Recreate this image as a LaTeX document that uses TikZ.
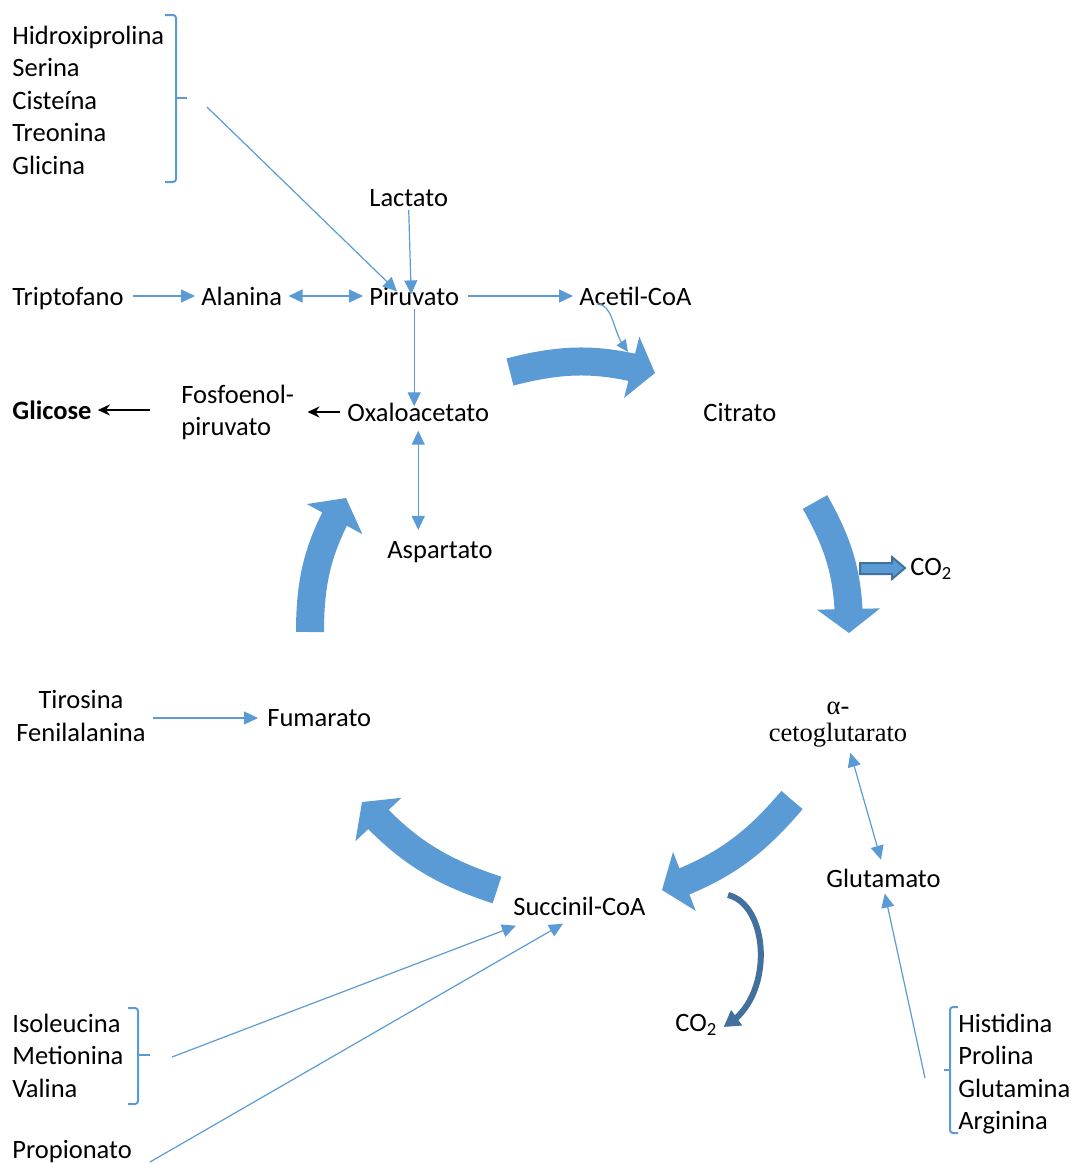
\documentclass[tikz,border=0pt]{standalone}
\usepackage{fontspec}
\setmainfont{Carlito}
\newfontfamily\timesfont{Liberation Serif}
\usetikzlibrary{arrows.meta,bending}
\definecolor{cycleblue}{HTML}{5B9BD5}
\definecolor{darkblue}{HTML}{41719C}

\tikzset{
  txt/.style={inner sep=0pt, anchor=west, align=left,
    font=\fontsize{13.25}{16.25}\selectfont},
  thinarrow/.style={cycleblue, line width=0.6pt, -{Triangle[length=7pt,width=6.5pt]}},
  thinboth/.style={cycleblue, line width=0.6pt,
    {Triangle[length=7pt,width=6.5pt]}-{Triangle[length=7pt,width=6.5pt]}},
  blackarrow/.style={black, line width=1pt, -{Stealth[length=6pt,width=5.5pt]}},
  bracket/.style={cycleblue, line width=1pt, rounded corners=1.5pt},
  cyclearrow/.style={cycleblue, line width=14pt, -{Triangle[length=12pt,width=31pt]}},
}

\begin{document}
\begin{tikzpicture}[x=0.5pt,y=-0.5pt]
\useasboundingbox (0,0) rectangle (1071,1164);

    \node[txt] (hyd) at (12,100) {Hidroxiprolina\\Serina\\Cisteína\\Treonina\\Glicina};
    \node[txt] (lact) at (369,198) {Lactato};
    \node[txt] (trip) at (12,299) {Triptofano};
    \node[txt] (alan) at (201,296) {Alanina};
    \node[txt] (piru) at (369,296) {Piruvato};
    \node[txt] (acet) at (579,296) {Acetil-CoA};
    \node[txt] (glic) at (12,410) {\bfseries Glicose};
    \node[txt] (fosf) at (181,412.5) {Fosfoenol-\\piruvato};
    \node[txt] (oxal) at (347,412) {Oxaloacetato};
    \node[txt] (citr) at (703,412) {Citrato};
    \node[txt] (aspa) at (387,552) {Aspartato};
    \node[txt] (co2a) at (910,569) {CO\textsubscript{2}};
    \node[txt, anchor=center, align=center,
          font=\timesfont\fontsize{13.25}{13.5}\selectfont] (alfa) at (838,725) {α-\\cetoglutarato};
    \node[txt] (glut) at (826,878) {Glutamato};
    \node[txt, anchor=center, align=center] (tiro) at (81,716) {Tirosina\\Fenilalanina};
    \node[txt] (fuma) at (267,718) {Fumarato};
    \node[txt] (succ) at (513,906) {Succinil-CoA};
    \node[txt] (co2b) at (675,1025) {CO\textsubscript{2}};
    \node[txt] (isol) at (12,1055.5) {Isoleucina\\Metionina\\Valina};
    \node[txt] (prop) at (12,1152) {Propionato};
    \node[txt] (hist) at (958,1074) {Histidina\\Prolina\\Glutamina\\Arginina};

    % brackets
    \draw[bracket] (165,15) -- (176,15) -- (176,182) -- (165,182);
    \draw[bracket] (176,98) -- (187,98);
    \draw[bracket] (128,1008) -- (138,1008) -- (138,1104) -- (128,1104);
    \draw[bracket] (138,1055) -- (150,1055);
    \draw[bracket] (958,1007) -- (950,1007) -- (950,1133) -- (958,1133);
    \draw[bracket] (950,1070) -- (944,1070);
    \coordinate (hydout) at (207,107);
    \coordinate (isolout) at (172,1057);
    \coordinate (histout) at (925,1078);
    \coordinate (propout) at (150,1162);
    \coordinate (acetin) at (628,352);

    % thin connectors
    \draw[thinarrow] (hydout) -- ([shift={(28,5)}]piru.north west);
    \draw[thinarrow] ([shift={(0,3)}]lact.south) -- ([shift={(-3,8)}]piru.north);
    \draw[thinarrow, shorten <=4.5pt, shorten >=3pt] (trip.east |- alan.west) -- (alan.west);
    \draw[thinboth, shorten <=3pt, shorten >=3pt] (alan.east) -- (piru.west);
    \draw[thinarrow, shorten <=4.5pt, shorten >=3pt] (piru.east) -- (acet.west);
    \draw[cycleblue, line width=0.6pt, -{Triangle[length=6pt,width=5.5pt]}]
        ([shift={(18,-2)}]acet.south west) .. controls (615,305) and (612,335) .. (acetin);
    \draw[thinarrow, shorten <=1.5pt, shorten >=-2pt] (piru.south) -- (piru.south |- oxal.north);
    \draw[thinboth, shorten <=4.5pt, shorten >=5.5pt] (oxal.south) -- (oxal.south |- aspa.north);
    \draw[blackarrow, shorten <=3.5pt, shorten >=6.5pt] (oxal.west) -- (oxal.west -| fosf.east);
    \draw[blackarrow, shorten <=15.5pt, shorten >=3pt] (fosf.west |- glic.east) -- (glic.east);
    \draw[thinboth, shorten <=2.5pt, shorten >=4.5pt] ([xshift=5.5pt]alfa.south) -- (glut.north);
    \draw[thinarrow, shorten >=3pt] (histout) -- (glut.south);
    \draw[thinarrow, shorten <=3.5pt, shorten >=4.5pt] (tiro.east |- fuma.west) -- (fuma.west);
    \draw[thinarrow] (isolout) -- ([shift={(3,10)}]succ.south west);
    \draw[thinarrow] (propout) -- ([shift={(50,8)}]succ.south west);

    % cycle
    \draw[cyclearrow] (510,372) to[bend left=15] (655,373);
    \draw[cyclearrow] (815,502) to[bend left=15] (849,633);
    \draw[cyclearrow] (792,800) to[bend left=15] (662,890);
    \draw[cyclearrow] (497,890) to[bend left=15] (362,802);
    \draw[cyclearrow] (310,632) to[bend left=15] (346,498);

    % CO2 release
    \draw[darkblue, fill=cycleblue, line width=1pt] (860,563) -- (892,563) -- (892,557)
        -- (905,568) -- (892,579) -- (892,574) -- (860,574) -- cycle;
    \draw[darkblue, line width=3pt, -{Triangle[length=8pt,width=9pt]}]
        (728,895) .. controls (770,905) and (775,1000) .. ([shift={(6,2)}]co2b.east);
\end{tikzpicture}
\end{document}
